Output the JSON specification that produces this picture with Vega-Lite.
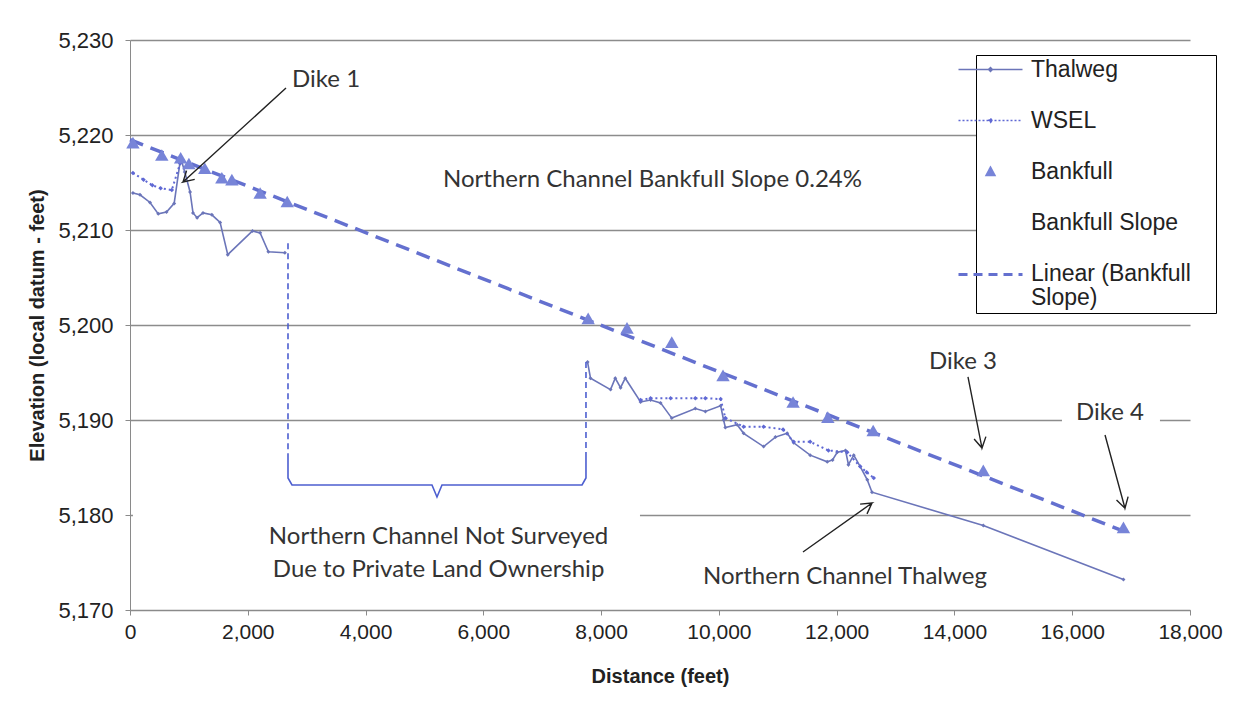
{
  "$schema": "https://vega.github.io/schema/vega-lite/v6.json",
  "width": 1060,
  "height": 570,
  "autosize": {"type": "none"},
  "padding": {"left": 130, "top": 40, "right": 63, "bottom": 102},
  "background": "white",
  "config": {"view": {"stroke": null}},
  "datasets": {
    "thalweg": [
      {"seg": 1, "ft": 50, "elev": 5213.9}, {"seg": 1, "ft": 170, "elev": 5213.7}, {"seg": 1, "ft": 340, "elev": 5212.9},
      {"seg": 1, "ft": 480, "elev": 5211.7}, {"seg": 1, "ft": 620, "elev": 5211.9}, {"seg": 1, "ft": 750, "elev": 5212.8},
      {"seg": 1, "ft": 860, "elev": 5217.6}, {"seg": 1, "ft": 930, "elev": 5216.1}, {"seg": 1, "ft": 1020, "elev": 5214.0},
      {"seg": 1, "ft": 1070, "elev": 5211.8}, {"seg": 1, "ft": 1140, "elev": 5211.3}, {"seg": 1, "ft": 1240, "elev": 5211.8},
      {"seg": 1, "ft": 1390, "elev": 5211.6}, {"seg": 1, "ft": 1530, "elev": 5210.8}, {"seg": 1, "ft": 1660, "elev": 5207.4},
      {"seg": 1, "ft": 2080, "elev": 5209.9}, {"seg": 1, "ft": 2210, "elev": 5209.7}, {"seg": 1, "ft": 2350, "elev": 5207.7},
      {"seg": 1, "ft": 2630, "elev": 5207.6},
      {"seg": 2, "ft": 7770, "elev": 5196.1}, {"seg": 2, "ft": 7820, "elev": 5194.4}, {"seg": 2, "ft": 8160, "elev": 5193.2},
      {"seg": 2, "ft": 8240, "elev": 5194.4}, {"seg": 2, "ft": 8330, "elev": 5193.4}, {"seg": 2, "ft": 8410, "elev": 5194.4},
      {"seg": 2, "ft": 8670, "elev": 5191.9}, {"seg": 2, "ft": 8840, "elev": 5192.1}, {"seg": 2, "ft": 9010, "elev": 5191.8},
      {"seg": 2, "ft": 9200, "elev": 5190.2}, {"seg": 2, "ft": 9600, "elev": 5191.2}, {"seg": 2, "ft": 9770, "elev": 5190.9},
      {"seg": 2, "ft": 10030, "elev": 5191.5}, {"seg": 2, "ft": 10080, "elev": 5190.0}, {"seg": 2, "ft": 10110, "elev": 5189.2},
      {"seg": 2, "ft": 10310, "elev": 5189.5}, {"seg": 2, "ft": 10420, "elev": 5188.6}, {"seg": 2, "ft": 10760, "elev": 5187.2},
      {"seg": 2, "ft": 10960, "elev": 5188.2}, {"seg": 2, "ft": 11160, "elev": 5188.6}, {"seg": 2, "ft": 11270, "elev": 5187.6},
      {"seg": 2, "ft": 11550, "elev": 5186.3}, {"seg": 2, "ft": 11840, "elev": 5185.6}, {"seg": 2, "ft": 11930, "elev": 5185.8},
      {"seg": 2, "ft": 12010, "elev": 5186.6}, {"seg": 2, "ft": 12150, "elev": 5186.8}, {"seg": 2, "ft": 12200, "elev": 5185.3},
      {"seg": 2, "ft": 12290, "elev": 5186.3}, {"seg": 2, "ft": 12400, "elev": 5185.1}, {"seg": 2, "ft": 12520, "elev": 5183.7},
      {"seg": 2, "ft": 12600, "elev": 5182.4}, {"seg": 2, "ft": 14490, "elev": 5178.9}, {"seg": 2, "ft": 16870, "elev": 5173.2}
    ],
    "wsel": [
      {"seg": 1, "ft": 50, "elev": 5216.0}, {"seg": 1, "ft": 230, "elev": 5215.3}, {"seg": 1, "ft": 380, "elev": 5214.7},
      {"seg": 1, "ft": 520, "elev": 5214.4}, {"seg": 1, "ft": 710, "elev": 5214.2}, {"seg": 1, "ft": 850, "elev": 5217.0},
      {"seg": 2, "ft": 8670, "elev": 5192.1}, {"seg": 2, "ft": 8840, "elev": 5192.3}, {"seg": 2, "ft": 9180, "elev": 5192.3},
      {"seg": 2, "ft": 9600, "elev": 5192.3}, {"seg": 2, "ft": 9770, "elev": 5192.3}, {"seg": 2, "ft": 10030, "elev": 5192.2},
      {"seg": 2, "ft": 10110, "elev": 5190.2}, {"seg": 2, "ft": 10420, "elev": 5189.3}, {"seg": 2, "ft": 10760, "elev": 5189.3},
      {"seg": 2, "ft": 11090, "elev": 5189.0}, {"seg": 2, "ft": 11270, "elev": 5187.7}, {"seg": 2, "ft": 11550, "elev": 5187.7},
      {"seg": 2, "ft": 11860, "elev": 5186.8}, {"seg": 2, "ft": 12180, "elev": 5186.6}, {"seg": 2, "ft": 12400, "elev": 5185.1},
      {"seg": 2, "ft": 12510, "elev": 5184.5}, {"seg": 2, "ft": 12630, "elev": 5183.9}
    ],
    "bankfull": [
      {"ft": 50, "elev": 5219.2}, {"ft": 540, "elev": 5217.9}, {"ft": 860, "elev": 5217.6}, {"ft": 1000, "elev": 5217.0},
      {"ft": 1270, "elev": 5216.5}, {"ft": 1560, "elev": 5215.5}, {"ft": 1730, "elev": 5215.3}, {"ft": 2210, "elev": 5213.9},
      {"ft": 2670, "elev": 5213.0}, {"ft": 7780, "elev": 5200.7}, {"ft": 8440, "elev": 5199.7}, {"ft": 9200, "elev": 5198.2},
      {"ft": 10070, "elev": 5194.7}, {"ft": 11260, "elev": 5191.9}, {"ft": 11850, "elev": 5190.3}, {"ft": 12620, "elev": 5188.9},
      {"ft": 14490, "elev": 5184.7}, {"ft": 16870, "elev": 5178.7}
    ],
    "trend": [
      {"ft": 0, "elev": 5219.5}, {"ft": 16870, "elev": 5178.3}
    ],
    "bracketDash": [
      {"part": "left", "ft": 2683, "elev": 5208.6}, {"part": "left", "ft": 2683, "elev": 5186.1},
      {"part": "right", "ft": 7743, "elev": 5196.1}, {"part": "right", "ft": 7743, "elev": 5186.1}
    ],
    "brace": [
      {"ord": 1, "ft": 2683, "elev": 5186.1}, {"ord": 2, "ft": 2683, "elev": 5183.9}, {"ord": 3, "ft": 2751, "elev": 5183.16},
      {"ord": 4, "ft": 5128, "elev": 5183.16}, {"ord": 5, "ft": 5213, "elev": 5181.9}, {"ord": 6, "ft": 5298, "elev": 5183.16},
      {"ord": 7, "ft": 7676, "elev": 5183.16}, {"ord": 8, "ft": 7743, "elev": 5183.9}, {"ord": 9, "ft": 7743, "elev": 5186.1}
    ],
    "arrows": [
      {"id": "d1", "ord": 1, "ft": 2649, "elev": 5224.95}, {"id": "d1", "ord": 2, "ft": 900, "elev": 5215.05},
      {"id": "d1", "ord": 3, "ft": 1099, "elev": 5215.33}, {"id": "d1", "ord": 4, "ft": 900, "elev": 5215.05},
      {"id": "d1", "ord": 5, "ft": 961, "elev": 5216.25},
      {"id": "d3", "ord": 1, "ft": 14230, "elev": 5194.53}, {"id": "d3", "ord": 2, "ft": 14468, "elev": 5187.05},
      {"id": "d3", "ord": 3, "ft": 14534, "elev": 5188.25}, {"id": "d3", "ord": 4, "ft": 14468, "elev": 5187.05},
      {"id": "d3", "ord": 5, "ft": 14334, "elev": 5188.0},
      {"id": "d4", "ord": 1, "ft": 16557, "elev": 5188.42}, {"id": "d4", "ord": 2, "ft": 16896, "elev": 5180.71},
      {"id": "d4", "ord": 3, "ft": 16949, "elev": 5181.93}, {"id": "d4", "ord": 4, "ft": 16896, "elev": 5180.71},
      {"id": "d4", "ord": 5, "ft": 16752, "elev": 5181.59},
      {"id": "nt", "ord": 1, "ft": 11428, "elev": 5176.1}, {"id": "nt", "ord": 2, "ft": 12600, "elev": 5181.26},
      {"id": "nt", "ord": 3, "ft": 12398, "elev": 5181.15}, {"id": "nt", "ord": 4, "ft": 12600, "elev": 5181.26},
      {"id": "nt", "ord": 5, "ft": 12515, "elev": 5180.12}
    ],
    "labelsCenter": [
      {"t": "Dike 1", "ft": 3330, "elev": 5225.8},
      {"t": "Dike 3", "ft": 14145, "elev": 5196.1},
      {"t": "Dike 4", "ft": 16642, "elev": 5190.7},
      {"t": "Northern Channel Not Surveyed", "ft": 5240, "elev": 5177.7},
      {"t": "Due to Private Land Ownership", "ft": 5240, "elev": 5174.2},
      {"t": "Northern Channel Thalweg", "ft": 12140, "elev": 5173.5}
    ],
    "labelsLeft": [
      {"t": "Northern Channel Bankfull Slope 0.24%", "ft": 5315, "elev": 5215.3}
    ],
    "boxes": [
      {"ft": 50, "ft2": 8660, "elev": 5171.5, "elev2": 5181.0},
      {"ft": 15826, "ft2": 17490, "elev": 5189.0, "elev2": 5192.5}
    ]
  },
  "encoding": {
    "x": {
      "field": "ft", "type": "quantitative",
      "scale": {"domain": [0, 18000], "nice": false},
      "axis": {
        "title": "Distance (feet)", "values": [0, 2000, 4000, 6000, 8000, 10000, 12000, 14000, 16000, 18000],
        "format": ",d", "grid": false, "domainColor": "#8a8a8a", "tickColor": "#8a8a8a", "tickSize": 5,
        "labelFont": "Liberation Sans", "labelFontSize": 21, "labelColor": "#222", "labelPadding": 6, "labelFlush": false,
        "titleFont": "Liberation Sans", "titleFontSize": 20, "titleFontWeight": "bold", "titleColor": "#222", "titlePadding": 24
      }
    },
    "y": {
      "field": "elev", "type": "quantitative",
      "scale": {"domain": [5170, 5230], "nice": false, "zero": false},
      "axis": {
        "title": "Elevation (local datum - feet)", "values": [5170, 5180, 5190, 5200, 5210, 5220, 5230],
        "format": ",d", "grid": true, "gridColor": "#8c8c8c", "gridWidth": 1.3,
        "domainColor": "#8a8a8a", "tickColor": "#8a8a8a", "tickSize": 5,
        "labelFont": "Liberation Sans", "labelFontSize": 22, "labelColor": "#222", "labelPadding": 12,
        "titleFont": "Liberation Sans", "titleFontSize": 20, "titleFontWeight": "bold", "titleColor": "#222", "titlePadding": 10
      }
    }
  },
  "layer": [
    {
      "data": {"name": "boxes"},
      "mark": {"type": "rect", "fill": "white"},
      "encoding": {"x2": {"field": "ft2"}, "y2": {"field": "elev2"}}
    },
    {
      "data": {"name": "trend"},
      "mark": {"type": "line", "strokeWidth": 3.5, "strokeDash": [14, 8]},
      "encoding": {
        "color": {
          "datum": "Linear (Bankfull Slope)", "type": "nominal",
          "scale": {
            "domain": ["Thalweg", "WSEL", "Bankfull", "Bankfull Slope", "Linear (Bankfull Slope)"],
            "range": ["#6b75b9", "#5f68d4", "#7784d8", "#7784d8", "#6470cf"]
          },
          "legend": {
            "orient": "none", "legendX": 846, "legendY": 15, "title": null, "direction": "vertical",
            "padding": 3, "strokeColor": "#000", "fillColor": "#fff",
            "labelFont": "Liberation Sans", "labelFontSize": 23, "labelColor": "#222", "labelLimit": 300,
            "labelOffset": 29, "rowPadding": 27, "symbolSize": 400, "symbolStrokeWidth": 1.5,
            "symbolType": "M-4.2,0M21.6,0M-3.2,0H3.2",
            "labelExpr": "datum.label == 'Linear (Bankfull Slope)' ? ['Linear (Bankfull', 'Slope)'] : datum.label",
            "encode": {
              "symbols": {
                "update": {
                  "shape": {"signal": "datum.value == 'Bankfull' ? 'M-4.2,0M21.6,0M0,-0.45L0.45,0.4L-0.45,0.4Z' : (datum.value == 'Linear (Bankfull Slope)' || datum.value == 'Bankfull Slope') ? 'M-4.2,0M21.6,0M-3.2,0H3.2' : 'M-4.2,0M21.6,0M-3.2,0H3.2M0,-0.2L0.2,0L0,0.2L-0.2,0Z'"},
                  "fill": {"signal": "datum.value == 'Bankfull' ? '#7784d8' : datum.value == 'Thalweg' ? '#6b75b9' : datum.value == 'WSEL' ? '#5f68d4' : 'transparent'"},
                  "stroke": {"signal": "datum.value == 'Bankfull' ? 'transparent' : datum.value == 'Thalweg' ? '#6b75b9' : datum.value == 'WSEL' ? '#5f68d4' : '#6470cf'"},
                  "strokeDash": {"signal": "datum.value == 'WSEL' ? [2, 2] : datum.value == 'Linear (Bankfull Slope)' ? [9, 6] : [1, 0]"},
                  "strokeWidth": {"signal": "datum.value == 'Linear (Bankfull Slope)' ? 3 : 1.5"},
                  "opacity": {"signal": "datum.value == 'Bankfull Slope' ? 0 : 1"}
                }
              },
              "labels": {
                "update": {
                  "baseline": {"signal": "datum.value == 'Linear (Bankfull Slope)' ? 'top' : 'middle'"},
                  "dy": {"signal": "datum.value == 'Linear (Bankfull Slope)' ? -12 : 0"},
                  "lineHeight": {"value": 24}
                }
              }
            }
          }
        }
      }
    },
    {
      "data": {"name": "thalweg"},
      "mark": {"type": "line", "strokeWidth": 1.6, "point": {"filled": true, "size": 16, "shape": "diamond"}},
      "encoding": {"color": {"datum": "Thalweg", "type": "nominal"}, "detail": {"field": "seg"}}
    },
    {
      "data": {"name": "wsel"},
      "mark": {"type": "line", "strokeWidth": 2, "strokeDash": [2, 3], "point": {"filled": true, "size": 20, "shape": "diamond"}},
      "encoding": {"color": {"datum": "WSEL", "type": "nominal"}, "detail": {"field": "seg"}}
    },
    {
      "data": {"name": "bankfull"},
      "mark": {"type": "point", "shape": "triangle-up", "filled": true, "size": 180, "opacity": 1},
      "encoding": {"color": {"datum": "Bankfull", "type": "nominal"}}
    },
    {
      "data": {"name": "bracketDash"},
      "mark": {"type": "line", "color": "#4d5fd0", "strokeWidth": 1.6, "strokeDash": [6, 4]},
      "encoding": {"detail": {"field": "part"}}
    },
    {
      "data": {"name": "brace"},
      "mark": {"type": "line", "color": "#4d5fd0", "strokeWidth": 1.6},
      "encoding": {"order": {"field": "ord"}}
    },
    {
      "data": {"name": "arrows"},
      "mark": {"type": "line", "color": "#222", "strokeWidth": 1.4},
      "encoding": {"detail": {"field": "id"}, "order": {"field": "ord"}}
    },
    {
      "data": {"name": "labelsCenter"},
      "mark": {"type": "text", "font": "Lato", "fontSize": 24, "color": "#333", "align": "center", "baseline": "middle"},
      "encoding": {"text": {"field": "t"}}
    },
    {
      "data": {"name": "labelsLeft"},
      "mark": {"type": "text", "font": "Lato", "fontSize": 24, "color": "#333", "align": "left", "baseline": "middle"},
      "encoding": {"text": {"field": "t"}}
    }
  ]
}
